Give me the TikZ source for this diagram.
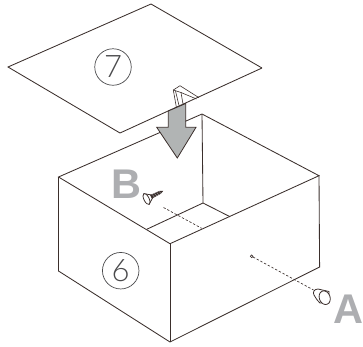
\documentclass[tikz,border=0pt]{standalone}
\usepackage{fontspec}
\setmainfont{Liberation Sans}
\newfontfamily\thinfont{Lato Light}
\definecolor{ink}{HTML}{3B2F2C}
\definecolor{fillgray}{HTML}{B1B4B4}
\definecolor{lettergray}{HTML}{ADAEB1}
\definecolor{numgray}{HTML}{4A4A4C}
\tikzset{
  edge/.style={draw=ink,line width=0.85pt,line join=miter},
  thin edge/.style={draw=ink,line width=0.6pt},
  dashline/.style={draw=ink,line width=0.65pt,dash pattern=on 2.4pt off 1.8pt},
  numcircle/.style={circle,draw=numgray,line width=0.7pt,minimum size=36.5pt,inner sep=0pt,text=numgray,font=\thinfont\fontsize{31}{31}\selectfont},
  bigletter/.style={text=lettergray,inner sep=0pt,font=\bfseries\fontsize{41.5}{41.5}\selectfont},
}
\begin{document}
\begin{tikzpicture}[x=1pt,y=-1pt]
\useasboundingbox (0,0) rectangle (363,346);
% plate
\coordinate (pt) at (151,4);
\coordinate (pl) at (8,67);
\coordinate (pb) at (120,133);
\coordinate (pr) at (262,68);
\draw[edge] (pt) -- (pl) -- (pb) -- (pr);
\draw[edge] (pt) -- (pr);
% tab
\draw[thin edge] (176.5,108) -- (173.3,90) -- (180,85.7) -- (199,97.7);
\draw[thin edge] (173.3,90) -- (181,92.5) -- (183,104);
\draw[thin edge] (175.5,91) -- (179,105.5);
\draw[thin edge] (181,92.5) -- (196.5,99);
% box
\coordinate (back) at (202,114);
\coordinate (left) at (58.5,177);
\coordinate (front) at (170,243.7);
\coordinate (right) at (319,175.7);
\coordinate (leftb) at (58.5,271);
\coordinate (frontb) at (170,342);
\coordinate (rightb) at (319.6,267);
\coordinate (inner) at (203,203);
\coordinate (innerl) at (146.7,229.3);
\coordinate (innerr) at (230,216.7);
\draw[edge] (back) -- (left) -- (front) -- (right) -- cycle;
\draw[edge] (left) -- (leftb) -- (frontb) -- (rightb) -- (right);
\draw[edge] (front) -- (frontb);
\draw[edge] (back) -- (inner);
\draw[edge] (innerl) -- (inner) -- (innerr);
% arrow
\draw[draw=ink,line width=0.8pt,fill=fillgray,line join=miter]
  (168.3,111) -- (185.7,103.5) -- (185.7,127.3) -- (196,127.3) -- (177.3,158) -- (156.7,127.3) -- (168.3,127.3) -- cycle;
% labels
\node[numcircle] (seven) at (113,67) {7};
\node[numcircle] (six) at (120.7,270.7) {6};
\node[bigletter,anchor=base] (letB) at (126,198.5) {B};
\node[bigletter,anchor=base] (letA) at (348,323.5) {A};
% screw B
\coordinate (screwtip) at (163.5,207.5);
\coordinate (screwend) at (201.7,228.3);
\draw[dashline] (screwtip) -- (screwend);
\begin{scope}[shift={(146.5,199)},rotate=26]
  \draw[draw=ink,line width=0.8pt,fill=white] (0,-6) -- (6,-1.6) -- (6,1.6) -- (0,6);
  \fill[ink] (5,-2) -- (15,-1.6) -- (18.8,0) -- (15,1.6) -- (5,2) -- cycle;
  \foreach \u in {7,9.5,12,14.5}{\draw[lettergray,line width=0.35pt] (\u,-1.7) -- (\u+1,1.7);}
  \draw[draw=ink,line width=0.8pt,fill=white] (0,0) ellipse (2.6pt and 6pt);
\end{scope}
% cap A
\coordinate (dotA) at (251.7,256.3);
\coordinate (capA) at (313.5,290);
\draw[ink,line width=0.6pt] (dotA) circle (1.4pt);
\draw[dashline] (dotA) ++(1.3,0.7) -- (capA);
\draw[draw=ink,line width=0.8pt,fill=white] (318,289) -- (329,291.5) -- (329,303) -- (320,303) .. controls (317,300) and (315.5,298) .. (314,295) .. controls (312.5,292.5) and (314,289) .. (318,289) -- cycle;
\draw[draw=ink,line width=0.8pt,fill=white,rotate around={20:(324.7,297.7)}] (324.7,297.7) ellipse (5.4pt and 7pt);
\end{tikzpicture}
\end{document}
